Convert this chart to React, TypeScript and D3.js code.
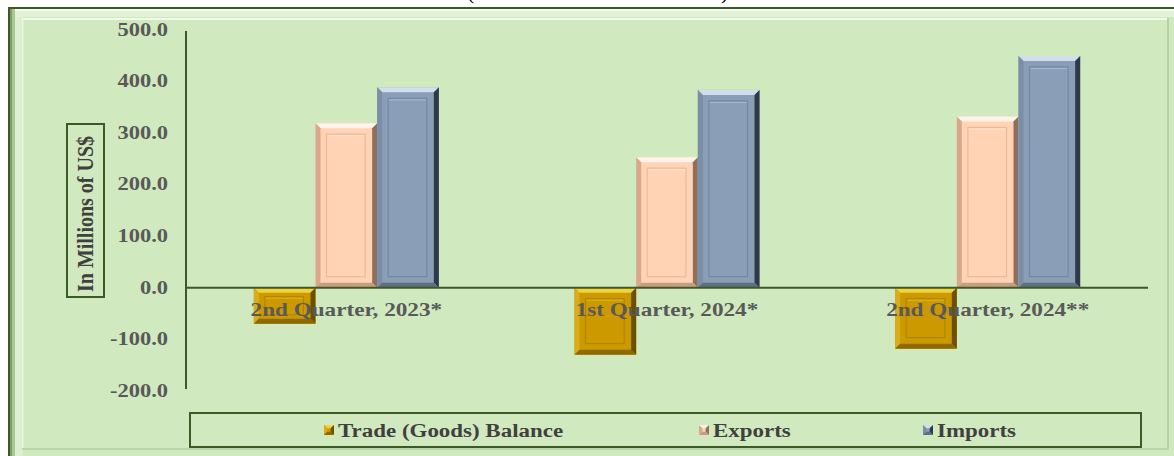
import React from "react";
import * as d3 from "d3";

const categories = ["2nd Quarter, 2023*", "1st Quarter, 2024*", "2nd Quarter, 2024**"];
const seriesNames = ["Trade (Goods) Balance", "Exports", "Imports"];
const tradeBalance = [-69.6, -129.6, -118.0];
const exportsVals = [318.6, 252.8, 331.5];
const importsVals = [388.0, 383.0, 448.7];
const yTicks = [-200, -100, 0, 100, 200, 300, 400, 500];

const W = 1174;
const H = 456;
const BG = "#D0E9BE";
const AXIS = "#3D5A26";
const SX = 1.25; // horizontal text stretch

type Pal = { base: string; top: string; left: string; right: string; bottom: string; inner: string; innerLight: string };
const palettes: Pal[] = [
  { base: "#CC9A00", top: "#F3D23A", left: "#D9AC1A", right: "#6A5000", bottom: "#8C6A00", inner: "#B08600", innerLight: "#E0B420" },
  { base: "#FFD3B3", top: "#FFF3EA", left: "#D9A88A", right: "#8E6E5C", bottom: "#C79C80", inner: "#E6BCA0", innerLight: "#FFE6D4" },
  { base: "#8A9EB8", top: "#D2DEEE", left: "#7A8EA8", right: "#2F3A48", bottom: "#5E6E84", inner: "#7588A2", innerLight: "#A9BAD0" },
];

function BevelBar({ x, y, w, h, p }: { x: number; y: number; w: number; h: number; p: Pal }) {
  const b = Math.min(5, h / 3);
  const pts = (a: number[][]) => a.map((q) => q.join(",")).join(" ");
  const ix = 11, iy = Math.min(11, h / 4);
  return (
    <g>
      <rect x={x} y={y} width={w} height={h} fill={p.base} />
      <polygon points={pts([[x, y], [x + w, y], [x + w - b, y + b], [x + b, y + b]])} fill={p.top} />
      <polygon points={pts([[x, y], [x + b, y + b], [x + b, y + h - b], [x, y + h]])} fill={p.left} />
      <polygon points={pts([[x + w, y], [x + w, y + h], [x + w - b, y + h - b], [x + w - b, y + b]])} fill={p.right} />
      <polygon points={pts([[x, y + h], [x + b, y + h - b], [x + w - b, y + h - b], [x + w, y + h]])} fill={p.bottom} />
      {h > 20 && (
        <>
          <rect x={x + ix} y={y + iy} width={w - 2 * ix - 1} height={h - 2 * iy} fill="none" stroke={p.inner} strokeWidth={1.2} />
          <line x1={x + ix + 1} x2={x + w - ix - 2} y1={y + iy + 1.5} y2={y + iy + 1.5} stroke={p.innerLight} strokeWidth={1} />
        </>
      )}
    </g>
  );
}

export default function App() {
  const plotLeft = 186;
  const plotRight = 1148;
  const y = d3.scaleLinear().domain([-200, 500]).range([391, 29.5]);
  const x0 = d3.scaleBand<string>().domain(categories).range([plotLeft, plotRight]).padding(0);
  const groupW = x0.bandwidth() * 0.577;
  const x1 = d3.scaleBand<string>().domain(seriesNames).range([0, groupW]).padding(0);
  const data = [tradeBalance, exportsVals, importsVals];

  return (
    <svg width={W} height={H} style={{ position: "absolute", left: 0, top: 0, display: "block" }}>
      <rect x={0} y={0} width={W} height={H} fill="#FFFFFF" />
      {/* title fragment (cut off at top edge, as in the reference) */}
      <text x={467} y={-1} fontFamily="Liberation Serif" fontSize={22} fill="#000">(</text>
      <text x={721} y={-1} fontFamily="Liberation Serif" fontSize={22} fill="#000">)</text>
      {/* frame */}
      <rect x={8} y={7} width={W - 8} height={H - 7} fill={BG} />
      <rect x={8} y={7} width={W - 8} height={2} fill={AXIS} />
      <rect x={8} y={7} width={2} height={H - 7} fill={AXIS} />
      <rect x={10} y={9} width={W - 10} height={2} fill="#F4FBEF" />
      <rect x={10} y={11} width={W - 10} height={6} fill="#E2F2D6" />
      <rect x={10} y={9} width={2} height={H} fill="#7F9E6C" />
      <rect x={12} y={9} width={3} height={H} fill="#A9C896" />
      <rect x={15} y={17} width={8} height={H} fill="#DDEFD1" />
      <rect x={23} y={18} width={W - 30} height={2} fill="#F2FAEC" />
      <rect x={22} y={18} width={1.5} height={H - 26} fill="#EAF6E2" />
      <rect x={1167} y={18} width={2} height={H - 26} fill="#B5D2A2" />
      <rect x={22} y={448} width={1147} height={2} fill="#B9D6A6" />

      {/* axis title */}
      <rect x={67} y={124} width={37} height={173} fill="none" stroke={AXIS} strokeWidth={2} />
      <g transform={`translate(93, 292) rotate(-90) scale(1, ${SX * 0.95})`}>
        <text x={0} y={0} fontFamily="Liberation Serif" fontWeight="bold" fontSize={20} fill="#404040">
          In Millions of US$
        </text>
      </g>

      {/* y ticks */}
      {yTicks.map((t) => (
        <g key={t} transform={`translate(168, ${y(t) + 6}) scale(${SX}, 1)`}>
          <text x={0} y={0} textAnchor="end" fontFamily="Liberation Serif" fontWeight="bold" fontSize={18} fill="#595959">
            {t.toFixed(1)}
          </text>
        </g>
      ))}

      {/* bars */}
      {categories.map((c, ci) => {
        const gx = (x0(c) as number) + (x0.bandwidth() - groupW) / 2;
        return seriesNames.map((s, si) => {
          const v = data[si][ci];
          const bx = gx + (x1(s) as number);
          const top = Math.min(y(v), y(0));
          const h = Math.abs(y(v) - y(0));
          return <BevelBar key={c + s} x={bx} y={top} w={x1.bandwidth()} h={h} p={palettes[si]} />;
        });
      })}

      {/* axes */}
      <line x1={plotLeft} x2={plotLeft} y1={31} y2={389} stroke={AXIS} strokeWidth={2} />
      <line x1={plotLeft} x2={plotRight} y1={y(0)} y2={y(0)} stroke={AXIS} strokeWidth={2} />

      {/* category labels */}
      {categories.map((c) => (
        <g key={c} transform={`translate(${(x0(c) as number) + x0.bandwidth() / 2}, ${y(0) + 28}) scale(${SX * 1.03}, 1)`}>
          <text x={0} y={0} textAnchor="middle" fontFamily="Liberation Serif" fontWeight="bold" fontSize={18} fill="#595959">
            {c}
          </text>
        </g>
      ))}

      {/* legend */}
      <rect x={190} y={413} width={951} height={34} fill="none" stroke={AXIS} strokeWidth={2} />
      {seriesNames.map((s, i) => {
        const mx = [324, 699, 923][i];
        return (
          <g key={s}>
            <BevelBar x={mx} y={425} w={10} h={10} p={palettes[i]} />
            <g transform={`translate(${mx + 14}, 436.5) scale(${SX * 1.02}, 1)`}>
              <text x={0} y={0} fontFamily="Liberation Serif" fontWeight="bold" fontSize={18} fill="#404040">
                {s}
              </text>
            </g>
          </g>
        );
      })}
    </svg>
  );
}
